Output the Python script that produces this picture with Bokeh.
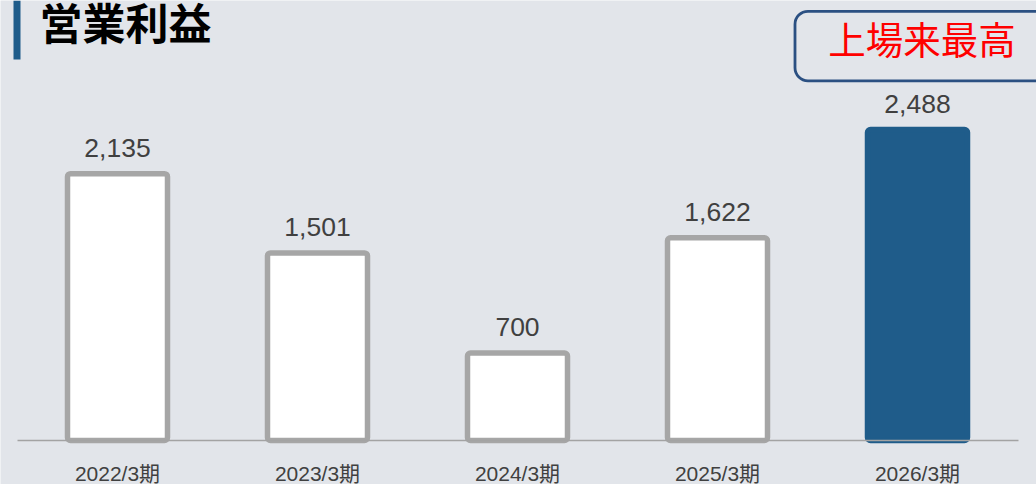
from bokeh.plotting import figure
from bokeh.models import Range1d, Label, ColumnDataSource
from bokeh.core.properties import value
from bokeh.embed import file_html
from bokeh.resources import INLINE

# ---- data ----
categories = ["2022/3期", "2023/3期", "2024/3期", "2025/3期", "2026/3期"]
profits = [2135, 1501, 700, 1622, 2488]
value_labels = ["2,135", "1,501", "700", "1,622", "2,488"]
title_text = "営業利益"
badge_text = "上場来最高"

# ---- style ----
BG = "#e2e5ea"
GRAY = "#a6a6a6"
BLUE = "#1f5c8a"
TXT = "#404040"
LATIN = "Liberation Sans, Noto Sans CJK JP"
CJK = "Noto Sans CJK JP"

W, H = 1036, 484
PX_X = 200.0      # pixels per category
PX_Y = 0.125      # pixels per unit
X0 = 117.0        # px of first category centre
BASE = 44.0       # px of zero from bottom

xs = list(range(len(categories)))
x_start = -X0 / PX_X
y_start = -BASE / PX_Y

p = figure(width=W, height=H, output_backend="svg", toolbar_location=None,
           x_range=Range1d(x_start, x_start + W / PX_X),
           y_range=Range1d(y_start, y_start + H / PX_Y),
           min_border=0, outline_line_color=None,
           background_fill_color=BG, border_fill_color=BG)
p.axis.visible = False
p.grid.visible = False


def dx(px):
    return x_start + px / PX_X


def dy(py):
    return y_start + (H - py) / PX_Y


fills = ["white"] * (len(categories) - 1) + [BLUE]
lines = [GRAY] * (len(categories) - 1) + [BLUE]
src = ColumnDataSource(dict(x=xs, top=profits, fill=fills, line=lines,
                            lab=value_labels, cat=categories))

p.vbar(x="x", top="top", bottom=0, width=0.5, source=src,
       fill_color="fill", line_color="line", line_width=5.5,
       border_radius=3)

# baseline
p.segment(x0=[dx(17)], y0=[0], x1=[dx(1018)], y1=[0],
          line_color="#a3a3a3", line_width=1.6)

# value labels
p.text(x="x", y="top", text="lab", source=src, y_offset=-26,
       text_align="center", text_baseline="middle",
       text_font=value(LATIN), text_font_size="26.5px", text_color=TXT)

# category labels
p.text(x="x", y=0, text="cat", source=src, y_offset=33,
       text_align="center", text_baseline="middle",
       text_font=value(LATIN), text_font_size="21px", text_color=TXT)

# title accent bar
p.quad(left=[dx(13)], right=[dx(20)], top=[dy(0)], bottom=[dy(59)],
       fill_color=BLUE, line_color=None)

# title
p.add_layout(Label(x=dx(39), y=dy(20.5), text=title_text,
                   text_font=CJK, text_font_style="bold",
                   text_font_size="43px", text_color="black",
                   text_baseline="middle", text_align="left"))

# badge
p.quad(left=[dx(794.5)], right=[dx(1070)], top=[dy(10.8)], bottom=[dy(80.3)],
       fill_color=None, line_color="#2b5082", line_width=2.8,
       border_radius=13)
p.add_layout(Label(x=dx(921.5), y=dy(36.5), text=badge_text,
                   text_font=CJK, text_font_size="37.5px",
                   text_color="#ff0000", text_baseline="middle",
                   text_align="center"))

open("out.html", "w").write(file_html(p, INLINE))
